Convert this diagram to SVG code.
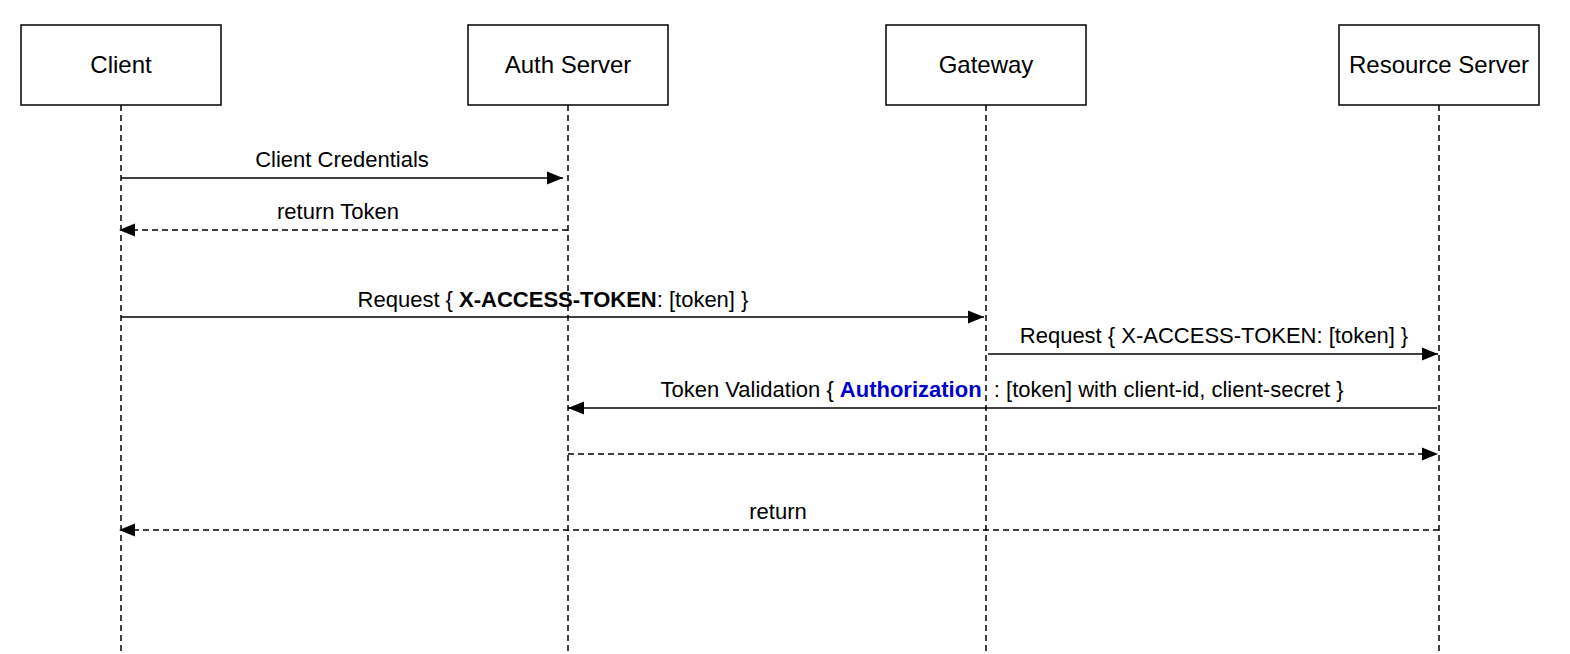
<svg xmlns="http://www.w3.org/2000/svg" width="1570" height="654" viewBox="0 0 1570 654">
<style>
text{font-family:"Liberation Sans",Arial,sans-serif;font-size:22px;fill:#000;}
.box{fill:#fff;stroke:#000;stroke-width:1.5;}
.name{font-size:24px;}
.life{stroke:#000;stroke-width:1.5;stroke-dasharray:6 4;fill:none;}
.msg{stroke:#000;stroke-width:1.5;fill:none;marker-end:url(#ah);}
.dash{stroke-dasharray:6 4;}
.lbl{text-anchor:middle;}
</style>
<defs>
<marker id="ah" markerUnits="userSpaceOnUse" markerWidth="17" markerHeight="14" refX="16" refY="7" orient="auto">
<path d="M0,0.5 L16,7 L0,13.5 z" fill="#000"/>
</marker>
</defs>
<rect width="1570" height="654" fill="#fff"/>
<g id="lifelines">
<line class="life" x1="121" y1="105" x2="121" y2="654"/>
<line class="life" x1="568" y1="105" x2="568" y2="654"/>
<line class="life" x1="986" y1="105" x2="986" y2="654"/>
<line class="life" x1="1439" y1="105" x2="1439" y2="654"/>
</g>
<g id="client"><rect class="box" x="21" y="25" width="200" height="80"/><text class="lbl name" x="121" y="73">Client</text></g>
<g id="auth"><rect class="box" x="468" y="25" width="200" height="80"/><text class="lbl name" x="568" y="73">Auth Server</text></g>
<g id="gateway"><rect class="box" x="886" y="25" width="200" height="80"/><text class="lbl name" x="986" y="73">Gateway</text></g>
<g id="resource"><rect class="box" x="1339" y="25" width="200" height="80"/><text class="lbl name" x="1439" y="73">Resource Server</text></g>
<g id="connectors">
<line class="msg" x1="121" y1="178" x2="563" y2="178"/>
<text class="lbl" x="342" y="167">Client Credentials</text>
<line class="msg dash" x1="568" y1="230" x2="119" y2="230"/>
<text class="lbl" x="338" y="219">return Token</text>
<line class="msg" x1="121" y1="317" x2="984" y2="317"/>
<text class="lbl" x="553" y="307">Request { <tspan font-weight="bold">X-ACCESS-TOKEN</tspan>: [token] }</text>
<line class="msg" x1="988" y1="354" x2="1438" y2="354"/>
<text class="lbl" x="1214" y="343">Request { X-ACCESS-TOKEN: [token] }</text>
<line class="msg" x1="1437" y1="408" x2="568" y2="408"/>
<text class="lbl" x="1002" y="397" xml:space="preserve">Token Validation { <tspan font-weight="bold" fill="#0000cc">Authorization</tspan>  : [token] with client-id, client-secret }</text>
<line class="msg dash" x1="568" y1="454" x2="1438" y2="454"/>
<line class="msg dash" x1="1439" y1="530" x2="119" y2="530"/>
<text class="lbl" x="778" y="519">return</text>
</g>
</svg>
